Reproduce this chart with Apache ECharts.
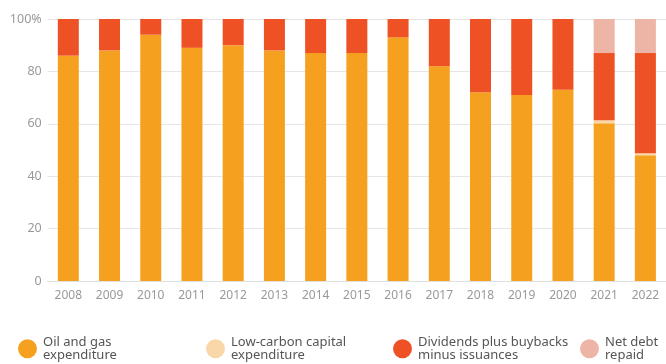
<!DOCTYPE html>
<html><head><meta charset="utf-8">
<script src="https://cdn.jsdelivr.net/npm/echarts@6/dist/echarts.min.js"></script>
<style>html,body{margin:0;padding:0;background:#fff}#c{width:666px;height:364px}</style>
</head><body><div id="c"></div>
<script>
const years = ['2008','2009','2010','2011','2012','2013','2014','2015','2016','2017','2018','2019','2020','2021','2022'];
const oilGas = [86,88,94,89,90,88,87,87,93,82,72,71,73,60.2,48];
const lowCarbon = [0,0,0,0,0,0,0,0,0,0,0,0,0,1.2,0.8];
const dividends = [14,12,6,11,10,12,13,13,7,18,28,29,27,25.6,38.2];
const netDebt = [0,0,0,0,0,0,0,0,0,0,0,0,0,13,13];
const yTicks = [0,20,40,60,80,100];
const names = ['Oil and gas\nexpenditure','Low-carbon capital\nexpenditure','Dividends plus buybacks\nminus issuances','Net debt\nrepaid'];
const colors = ['#f5a11f','#fad7a8','#ee5124','#edb5a6'];
const seriesData = [oilGas, lowCarbon, dividends, netDebt];
const chart = echarts.init(document.getElementById('c'), null, {renderer:'canvas'});
const legendLefts = [13, 201, 388, 575];
chart.setOption({
  animation:false,
  textStyle:{fontFamily:'Noto Sans'},
  grid:{left:47.7, right:-6, top:19, bottom:83, containLabel:false},
  legend: names.map((n,i)=>({
    data:[n], left:legendLefts[i], top:331, icon:'circle', itemWidth:19, itemHeight:19, itemGap:0,
    selectedMode:false,
    textStyle:{fontSize:13, color:'#555', lineHeight:12.5, padding:[0,0,0,1]}
  })),
  xAxis:{type:'category', data:years, axisTick:{show:false},
    axisLine:{lineStyle:{color:'#e0e0e0'}},
    axisLabel:{color:'#999', fontSize:12, margin:9}},
  yAxis:{type:'value', min:0, max:100, interval:20,
    axisLabel:{color:'#999', fontSize:12.5, margin:6, formatter:v=> v===100?'100%':String(v)},
    splitLine:{lineStyle:{color:'#e6e6e6'}}},
  series: seriesData.map((d,i)=>({
    name:names[i], type:'bar', stack:'s', data:d, barWidth:21,
    itemStyle:{color:colors[i]}
  }))
});
</script></body></html>
